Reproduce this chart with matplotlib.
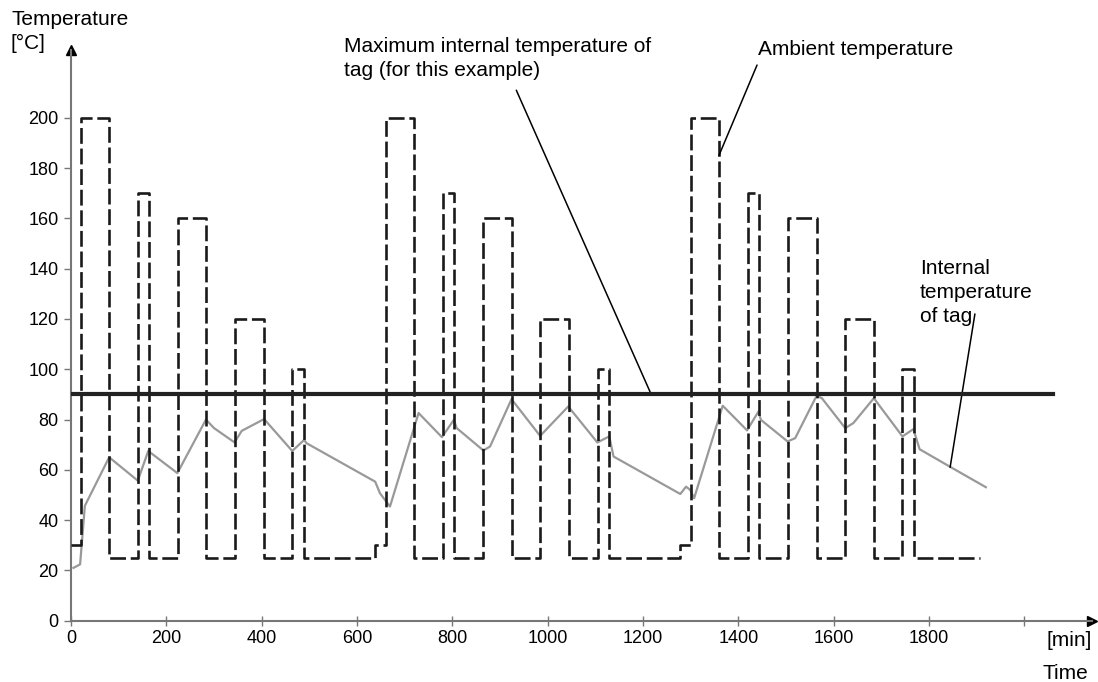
import matplotlib.pyplot as plt

plt.rcParams['font.family'] = ['Liberation Sans', 'DejaVu Sans']

# ambient temperature, steps (time [min] -> temperature [°C])
ambient_t = [0, 20, 80, 140, 164, 224, 284, 344, 405, 464, 489, 638,
             660, 720, 780, 804, 865, 925, 984, 1044, 1105, 1129, 1278,
             1300, 1360, 1420, 1444, 1504, 1564, 1624, 1685, 1744, 1769, 1906]
ambient_v = [30, 200, 25, 170, 25, 160, 25, 120, 25, 100, 25, 30,
             200, 25, 170, 25, 160, 25, 120, 25, 100, 25, 30,
             200, 25, 170, 25, 160, 25, 120, 25, 100, 25, 25]

# internal temperature of tag
internal_t = [5, 19, 29, 80, 140, 162, 223, 283, 300, 343, 358, 405, 464, 489,
              494, 638, 648, 669, 729, 778, 803, 809, 865, 879, 924, 984, 1043,
              1104, 1129, 1138, 1278, 1290, 1299, 1307, 1367, 1418, 1442, 1447,
              1503, 1519, 1564, 1575, 1624, 1641, 1684, 1744, 1767, 1780, 1845, 1919]
internal_v = [21, 22.4, 45.7, 65, 55.7, 67.5, 58.7, 80, 76.6, 70.9, 75.5, 80.2, 67.5, 71.9,
              70.6, 55.3, 50.7, 45.4, 82.6, 73, 79.9, 76.6, 67.7, 69.3, 88.1, 73.5, 85.2,
              70.9, 73.3, 65.3, 50.4, 53.3, 52, 48.7, 85.5, 75.7, 83.2, 79.9,
              71.3, 72.6, 89.5, 88.5, 76.6, 78.6, 88.5, 73.3, 76.2, 68.2, 61.1, 53.1]

# maximum internal temperature of tag
max_temp = 90
max_t = [0, 2060]

y_ticks = [0, 20, 40, 60, 80, 100, 120, 140, 160, 180, 200]
x_ticks = [0, 200, 400, 600, 800, 1000, 1200, 1400, 1600, 1800, 2000]
x_labels = ["0", "200", "400", "600", "800", "1000", "1200", "1400", "1600", "1800", ""]

fig = plt.figure(figsize=(10.98, 6.82), dpi=100)
ax = fig.add_axes([0.0647, 0.0899, 0.93, 0.8368])

ax.plot(internal_t, internal_v, color="#999999", lw=1.6, zorder=2)
ax.plot(ambient_t, ambient_v, drawstyle="steps-post", color="#1a1a1a",
        lw=1.9, linestyle=(0, (6, 1.8)), zorder=3)
ax.plot(max_t, [max_temp, max_temp], color="#222222", lw=3, zorder=4)

ax.set_xlim(0, 2142)
ax.set_ylim(0, 227)

for s in ["top", "right"]:
    ax.spines[s].set_visible(False)
for s in ["left", "bottom"]:
    ax.spines[s].set_color("#777777")
    ax.spines[s].set_linewidth(1.5)

# axis arrows
ax.plot(1, 0, marker=">", color="black", ms=7, transform=ax.transAxes, clip_on=False)
ax.plot(0, 1, marker="^", color="black", ms=7, transform=ax.transAxes, clip_on=False)

ax.set_yticks(y_ticks)
ax.set_xticks(x_ticks)
ax.set_xticklabels(x_labels)
ax.tick_params(axis="y", direction="out", length=5, width=1, color="#777777",
               labelsize=13, pad=4)
ax.tick_params(axis="x", direction="inout", length=7, width=1, color="#777777",
               labelsize=13, pad=3)

# annotations
ax.text(573, 232, "Maximum internal temperature of\ntag (for this example)",
        fontsize=15, va="top", ha="left", linespacing=1.3)
ax.annotate("", xy=(1217, max_temp), xytext=(934, 211),
            arrowprops=dict(arrowstyle="-", color="black", lw=1.1, shrinkA=0, shrinkB=0))

ax.text(1441, 231, "Ambient temperature", fontsize=15, va="top", ha="left")
ax.annotate("", xy=(1359, 185), xytext=(1439, 221),
            arrowprops=dict(arrowstyle="-", color="black", lw=1.1, shrinkA=0, shrinkB=0))

ax.text(1781, 144, "Internal\ntemperature\nof tag", fontsize=15, va="top", ha="left",
        linespacing=1.35)
ax.annotate("", xy=(1844, 61), xytext=(1896, 122),
            arrowprops=dict(arrowstyle="-", color="black", lw=1.1, shrinkA=0, shrinkB=0))

fig.text(11 / 1098, 1 - 10 / 682, "Temperature\n[°C]", fontsize=15, va="top", ha="left",
         linespacing=1.35)
fig.text(1092 / 1098, 1 - 631 / 682, "[min]", fontsize=15, va="top", ha="right")
fig.text(1088 / 1098, 1 - 664 / 682, "Time", fontsize=15, va="top", ha="right")

fig.savefig("out.png", dpi=100)
